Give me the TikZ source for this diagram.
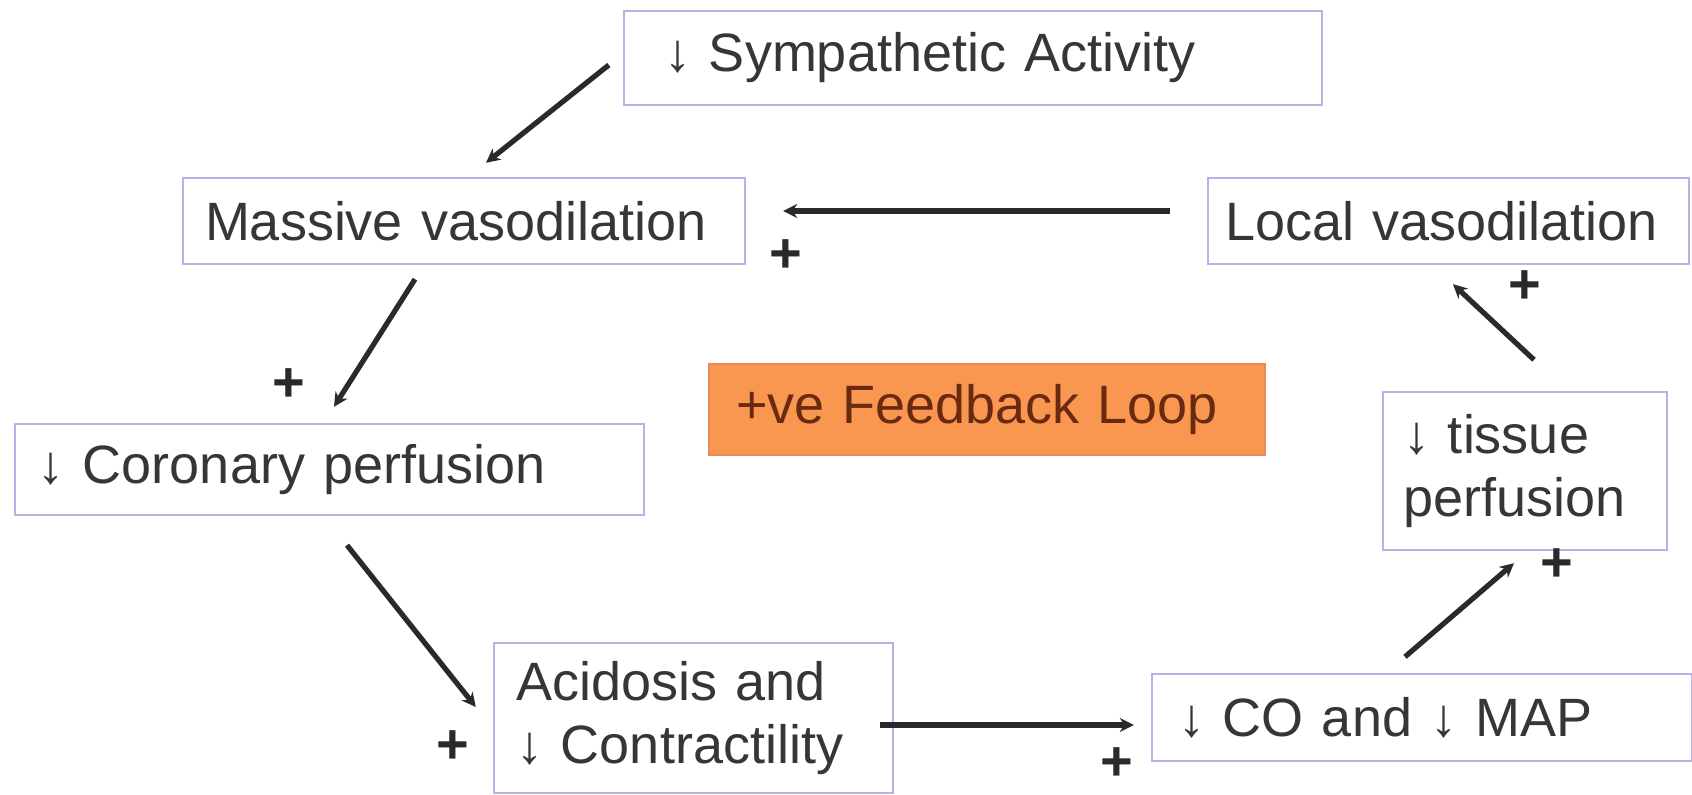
\documentclass[tikz,border=0pt]{standalone}
\usepackage{fontspec}
\setmainfont{Liberation Sans}
\usetikzlibrary{arrows.meta,calc}
\definecolor{boxc}{HTML}{B4B4E6}
\definecolor{txtc}{HTML}{363636}
\definecolor{orfill}{HTML}{F9964F}
\definecolor{ordraw}{HTML}{E88A5A}
\definecolor{ortext}{HTML}{6A2A12}
\definecolor{arrc}{HTML}{2A2A2A}
\newcommand\diagfont{\fontsize{27}{31.5}\selectfont}
\newcommand\plusfont{\fontsize{28}{28}\selectfont\bfseries}
\begin{document}
\begin{tikzpicture}[x=0.5pt,y=-0.5pt,
  boxnode/.style={draw=boxc, line width=1.2pt, fill=white, align=left, inner ysep=0pt, font=\diagfont, text=txtc},
  fbnode/.style={draw=ordraw, line width=1pt, fill=orfill, align=left, inner ysep=0pt, font=\diagfont, text=ortext},
  arr/.style={draw=arrc, line width=2.6pt, -{Stealth[length=7pt,width=7pt]}},
  plussign/.style={font=\plusfont, text=arrc, inner sep=0pt}]
\useasboundingbox (0,0) rectangle (1692,795);
\fill[white] (0,0) rectangle (1692,795);

\node[boxnode, text width=309pt, inner xsep=20pt, minimum height=47pt] (sym) at (973,58) {↓ Sympathetic Activity};
\node[boxnode, text width=259pt, inner xsep=11pt, minimum height=43pt] (mas) at (464,221) {Massive vasodilation};
\node[boxnode, text width=223.5pt, inner xsep=8.5pt, minimum height=43pt] (loc) at (1448.5,221) {Local vasodilation};
\node[boxnode, text width=291.5pt, inner xsep=11.5pt, minimum height=45.5pt] (cor) at (329.5,469.5) {↓ Coronary perfusion};
\node[fbnode, text width=251pt, inner xsep=13.5pt, minimum height=45.5pt] (fb) at (987,409.5) {+ve Feedback Loop};
\node[boxnode, text width=122pt, inner xsep=10pt, minimum height=79pt] (tis) at (1525,471) {↓ tissue\\perfusion};
\node[boxnode, text width=177.5pt, inner xsep=11pt, minimum height=75pt] (aci) at (693.5,718) {Acidosis and\\↓ Contractility};
\node[boxnode, text width=244pt, inner xsep=13pt, minimum height=43.5pt] (co) at (1422,717.5) {↓ CO and ↓ MAP};

\draw[arr] ($(sym.west)+(-14,7)$) -- ($(mas.north)+(22,-14)$);
\draw[arr] ($(loc.west)+(-37,-10)$) -- ($(mas.east)+(37,-10)$);
\draw[arr] ($(mas.south)+(-49,14)$) -- ($(cor.north)+(4.5,-16)$);
\draw[arr] ($(cor.south)+(17.5,29)$) -- ($(aci.west)+(-17,-11)$);
\draw[arr] ($(aci.east)+(-14,7)$) -- ($(co.west)+(-17,7.5)$);
\draw[arr] ($(co.north)+(-17,-16)$) -- ($(tis.south)+(-11,12)$);
\draw[arr] ($(tis.north)+(9,-31)$) -- ($(loc.south)+(4.5,19)$);

\node[plussign] (p1) at (786,256) {+};
\node[plussign] (p2) at (289,385) {+};
\node[plussign] (p3) at (453,747) {+};
\node[plussign] (p4) at (1117,764) {+};
\node[plussign] (p5) at (1557,565) {+};
\node[plussign] (p6) at (1525,287) {+};
\end{tikzpicture}
\end{document}
